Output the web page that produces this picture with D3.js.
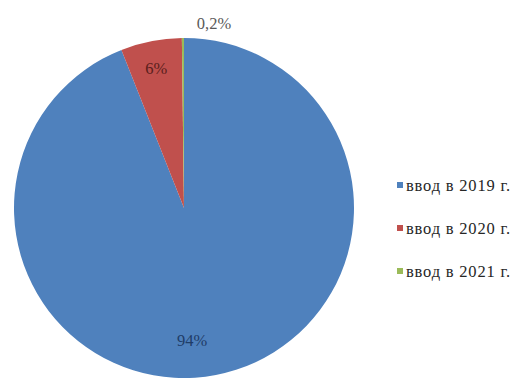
<!DOCTYPE html>
<html>
<head>
<meta charset="utf-8">
<script src="https://cdn.jsdelivr.net/npm/d3@7"></script>
<style>
  body { margin: 0; background: #fff; }
  text { font-family: "Liberation Serif", "Times New Roman", serif; }
</style>
</head>
<body>
<svg id="chart"></svg>
<script>
const categories = ['ввод в 2019 г.', 'ввод в 2020 г.', 'ввод в 2021 г.']
const values = [94.0, 5.8, 0.2]
const labels = ['94%', '6%', '0,2%']
const colors = ['#4F81BD', '#C0504D', '#9BBB59']
const labelColors = ['#1F3D68', '#5A1E1C', '#595959']

const dims = { width: 522, height: 381 }
const center = { x: 184, y: 208 }
const radius = 170

const svg = d3.select('#chart')
              .attr('width', dims.width)
              .attr('height', dims.height)

const data = categories.map(function (c, i) {
    return { name: c, value: values[i], label: labels[i], color: colors[i], labelColor: labelColors[i] }
})

const pie = d3.pie().sort(null).value(function (d) { return d.value })
const arcs = pie(data)
const arc = d3.arc().innerRadius(0).outerRadius(radius)

const g = svg.append('g')
             .attr('transform', `translate(${center.x}, ${center.y})`)

g.selectAll('.slice')
 .data(arcs)
 .enter().append('path')
 .attr('class', 'slice')
 .attr('d', arc)
 .attr('fill', function (d) { return d.data.color })

// labels: inner ones on the slice, the tiny one outside
const inArc = d3.arc().innerRadius(radius * 0.84).outerRadius(radius * 0.84)

g.selectAll('.lbl')
 .data(arcs)
 .enter().append('text')
 .attr('class', 'lbl')
 .attr('transform', function (d, i) {
     var p
     if (i == 0) p = [8, 132]
     else if (i == 1) p = inArc.centroid(d)
     else p = [30, -radius - 15]
     return `translate(${p[0]}, ${p[1]})`
 })
 .attr('text-anchor', 'middle')
 .attr('dy', '.35em')
 .style('font-size', '16.5px')
 .attr('fill', function (d) { return d.data.labelColor })
 .text(function (d) { return d.data.label })

// legend
const legend = svg.append('g')
                  .attr('transform', 'translate(397, 185)')
const y = d3.scalePoint().domain(categories).range([0, 86])

const item = legend.selectAll('.item')
                   .data(data)
                   .enter().append('g')
                   .attr('transform', function (d) { return `translate(0, ${y(d.name)})` })
item.append('rect')
    .attr('x', 0).attr('y', -3)
    .attr('width', 6).attr('height', 6)
    .attr('fill', function (d) { return d.color })
item.append('text')
    .attr('x', 9)
    .attr('dy', '.35em')
    .style('font-size', '16.5px')
    .style('letter-spacing', '0.8px')
    .attr('fill', '#262626')
    .text(function (d) { return d.name })
</script>
</body>
</html>
